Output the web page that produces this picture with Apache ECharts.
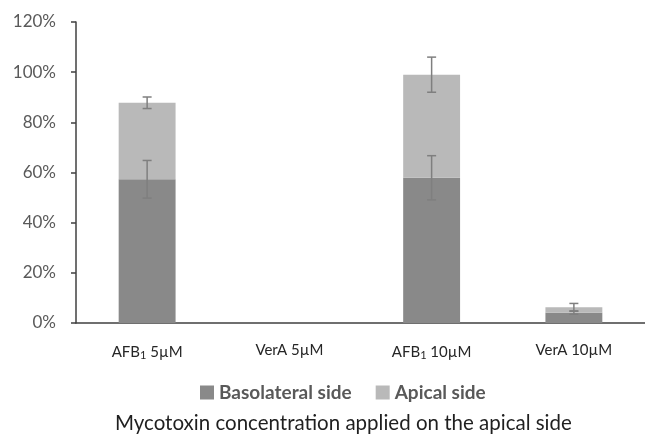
<!DOCTYPE html>
<html>
<head>
<meta charset="utf-8">
<script src="https://cdn.jsdelivr.net/npm/echarts@6/dist/echarts.min.js"></script>
<style>
  html, body { margin: 0; padding: 0; background: #ffffff; }
  #chart { width: 645px; height: 436px; }
</style>
</head>
<body>
<div id="chart"></div>
<script>
// Category labels (rich-text with subscript "1" for AFB1)
const categories = ['{a|AFB}{s|1}{a| 5µM}', '{a|VerA 5µM}', '{a|AFB}{s|1}{a| 10µM}', '{a|VerA 10µM}'];
// Percentage recovered on each side (stacked)
const basolateral = [57.3, 0, 57.9, 4.1];
const apical = [30.5, 0, 41.1, 2.2];
// Standard deviations
const basolateralErr = [7.5, 0, 8.8, 0.6];
const apicalErr = [2.3, 0, 7.0, 1.5];
const yTicks = [0, 20, 40, 60, 80, 100, 120];

const FONT = 'Lato, "Open Sans", sans-serif';

// error bar data: [category index, centre value, half-width]
const errData = [];
categories.forEach((c, i) => {
  if (basolateralErr[i] > 0) errData.push([i, basolateral[i], basolateralErr[i]]);
  if (apicalErr[i] > 0) errData.push([i, basolateral[i] + apical[i], apicalErr[i]]);
});

function renderErr(params, api) {
  const i = api.value(0), v = api.value(1), e = api.value(2);
  const hi = api.coord([i, v + e]);
  const lo = api.coord([i, v - e]);
  const hw = 4.5;
  const style = { stroke: '#7f7f7f', lineWidth: 1.5 };
  return {
    type: 'group',
    children: [
      { type: 'line', shape: { x1: hi[0], y1: hi[1], x2: lo[0], y2: lo[1] }, style },
      { type: 'line', shape: { x1: hi[0] - hw, y1: hi[1], x2: hi[0] + hw, y2: hi[1] }, style },
      { type: 'line', shape: { x1: lo[0] - hw, y1: lo[1], x2: lo[0] + hw, y2: lo[1] }, style }
    ]
  };
}

const chart = echarts.init(document.getElementById('chart'), null, { renderer: 'canvas' });
chart.setOption({
  animation: false,
  backgroundColor: '#ffffff',
  grid: { left: 76, right: 0, top: 22, bottom: 113, containLabel: false },
  title: {
    text: 'Mycotoxin concentration applied on the apical side',
    left: 110,
    top: 408,
    textStyle: { fontFamily: FONT, fontSize: 20.5, fontWeight: 'normal', color: '#1f1f1f' }
  },
  legend: {
    data: ['Basolateral side', 'Apical side'],
    top: 378,
    left: 195,
    icon: 'rect',
    itemWidth: 14,
    itemHeight: 14,
    itemGap: 24,
    textStyle: { fontFamily: FONT, fontSize: 19, fontWeight: 'bold', color: '#595959' }
  },
  xAxis: {
    type: 'category',
    data: categories,
    axisLine: { show: true, lineStyle: { color: '#404040', width: 1.5 } },
    axisTick: { show: false },
    axisLabel: {
      margin: 20,
      interval: 0,
      rich: {
        a: { fontFamily: FONT, fontSize: 15, color: '#262626' },
        s: { fontFamily: FONT, fontSize: 11, color: '#262626', padding: [7, 0, 0, 0] }
      }
    }
  },
  yAxis: {
    type: 'value',
    min: yTicks[0],
    max: yTicks[yTicks.length - 1],
    interval: yTicks[1] - yTicks[0],
    axisLine: { show: true, lineStyle: { color: '#404040', width: 1.5 } },
    axisTick: { show: true, length: 5, lineStyle: { color: '#404040', width: 1.5 } },
    splitLine: { show: false },
    axisLabel: {
      formatter: '{value}%',
      margin: 20,
      fontFamily: FONT,
      fontSize: 17,
      color: '#595959'
    }
  },
  series: [
    {
      name: 'Basolateral side',
      type: 'bar',
      stack: 'total',
      barWidth: '40%',
      data: basolateral,
      itemStyle: { color: '#898989' }
    },
    {
      name: 'Apical side',
      type: 'bar',
      stack: 'total',
      barWidth: '40%',
      data: apical,
      itemStyle: { color: '#b9b9b9' }
    },
    {
      name: 'SD',
      type: 'custom',
      renderItem: renderErr,
      data: errData,
      encode: { x: 0, y: [1, 2] },
      z: 10
    }
  ]
});
</script>
</body>
</html>
